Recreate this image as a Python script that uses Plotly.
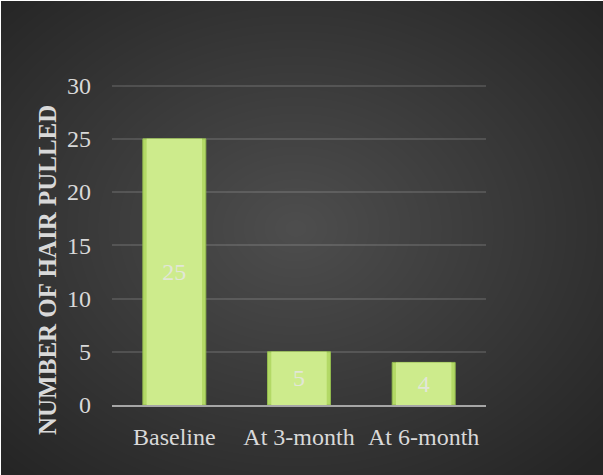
import base64, struct, zlib
import numpy as np
import plotly.graph_objects as go

# ---- data ----
categories = ["Baseline", "At 3-month", "At 6-month"]
hair_pulled = [25, 5, 4]
y_ticks = [0, 5, 10, 15, 20, 25, 30]

# ---- figure geometry / style ----
W, H = 603, 475
Y_TOP = 30.15
ML, MR, MB = 112, 117, 70
MT = 86 - round(0.15 * 319 / 30)
PW, PH = W - ML - MR, H - MT - MB
FONT = "Liberation Serif, Times New Roman, serif"
TXT = "#d9d9d9"
BAR_W = 0.505
FS = 24


def radial_png(w, h):
    yy, xx = np.mgrid[0:h, 0:w].astype(float)
    cx, cy = w * 0.49, h * 0.48
    t = np.sqrt(((xx - cx) / (w / 2)) ** 2 + ((yy - cy) / (h / 2)) ** 2) / np.sqrt(2)
    t = np.clip(t, 0, 1)
    c0, c1 = 78.0, 37.0
    v = c0 + (c1 - c0) * t
    img = np.repeat(v[:, :, None], 3, axis=2).astype(np.uint8)
    img[0, :, :] = 255
    img[:, 0, :] = 255
    raw = b"".join(b"\x00" + img[r].tobytes() for r in range(h))

    def chunk(tag, data):
        c = struct.pack(">I", len(data)) + tag + data
        return c + struct.pack(">I", zlib.crc32(tag + data) & 0xFFFFFFFF)

    png = b"\x89PNG\r\n\x1a\n"
    png += chunk(b"IHDR", struct.pack(">IIBBBBB", w, h, 8, 2, 0, 0, 0))
    png += chunk(b"IDAT", zlib.compress(raw, 9))
    png += chunk(b"IEND", b"")
    return "data:image/png;base64," + base64.b64encode(png).decode()


fig = go.Figure()
# outer bar (bevel edge)
fig.add_trace(go.Bar(
    x=categories, y=hair_pulled, width=BAR_W,
    marker=dict(color="#b3d966", line=dict(color="#93bb4f", width=1)),
    hoverinfo="skip",
))
# inner face
fig.add_trace(go.Bar(
    x=categories, y=hair_pulled, width=BAR_W * 0.88,
    text=[str(v) for v in hair_pulled],
    textposition="inside",
    insidetextanchor="middle",
    textangle=0,
    textfont=dict(family=FONT, size=FS, color="rgba(230,230,230,0.85)"),
    marker=dict(color="#cdeb8c", line=dict(width=0)),
    hoverinfo="skip",
))

fig.update_layout(
    width=W, height=H,
    margin=dict(l=ML, r=MR, t=MT, b=MB, pad=0),
    paper_bgcolor="#333333",
    plot_bgcolor="rgba(0,0,0,0)",
    barmode="overlay",
    showlegend=False,
    font=dict(family=FONT, size=FS, color=TXT),
    images=[dict(
        source=radial_png(W, H),
        xref="paper", yref="paper",
        x=-ML / PW, y=1 + MT / PH,
        sizex=W / PW, sizey=H / PH,
        xanchor="left", yanchor="top",
        sizing="stretch", layer="below",
    )],
    xaxis=dict(
        showline=True, linecolor="#a6a6a6", linewidth=2,
        showgrid=False, ticks="", ticklabelstandoff=9,
        tickfont=dict(family=FONT, size=FS, color=TXT),
        fixedrange=True,
    ),
    yaxis=dict(
        range=[0, Y_TOP], tickvals=y_ticks,
        showline=False, zeroline=False,
        showgrid=True, gridcolor="rgba(217,217,217,0.16)", gridwidth=1.5,
        ticks="", ticklabelstandoff=20,
        tickfont=dict(family=FONT, size=FS, color=TXT),
        fixedrange=True,
    ),
    annotations=[dict(
        text="<b>NUMBER OF HAIR PULLED</b>",
        xref="paper", yref="paper",
        x=(47 - ML) / PW, y=(H - MB - 270) / PH,
        xanchor="center", yanchor="middle",
        textangle=-90, showarrow=False,
        font=dict(family=FONT, size=25, color=TXT),
    )],
)

fig.write_html("out.html")
